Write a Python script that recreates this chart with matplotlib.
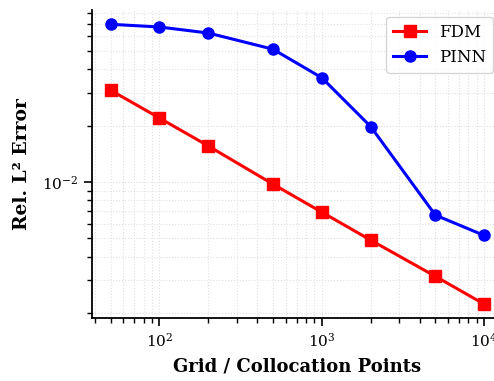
import numpy as np
import matplotlib
matplotlib.use("Agg")
import matplotlib.pyplot as plt

# Convergence data: relative L2 error vs. resolution
points = [50, 100, 200, 500, 1000, 2000, 5000, 10000]
fdm_err = [0.0310, 0.0220, 0.0156, 0.00976, 0.00691, 0.00490, 0.00314, 0.00223]
pinn_err = [0.0697, 0.0674, 0.0626, 0.0513, 0.0361, 0.0198, 0.00667, 0.00519]

plt.rcParams["font.family"] = "serif"
plt.rcParams["font.serif"] = ["DejaVu Serif"]

fig = plt.figure(figsize=(4.94, 3.81), dpi=100)
ax = fig.add_axes([0.186, 0.165, 0.832, 0.808])

ax.loglog(points, fdm_err, "-s", color="red", lw=2.2, ms=8, label="FDM")
ax.loglog(points, pinn_err, "-o", color="blue", lw=2.2, ms=8, label="PINN")

ax.set_xlabel("Grid / Collocation Points", fontsize=13, fontweight="bold", labelpad=6)
ax.set_ylabel("Rel. L² Error", fontsize=13.5, fontweight="bold", labelpad=8)

ax.grid(True, which="both", ls=":", lw=0.8, color="0.88")
ax.tick_params(which="major", length=6, width=1.2, labelsize=11)
ax.tick_params(which="minor", length=3.5, width=1.0)

for side in ("top", "right"):
    ax.spines[side].set_visible(False)
for side in ("left", "bottom"):
    ax.spines[side].set_linewidth(1.3)

ax.legend(loc="upper right", fontsize=12, fancybox=True, framealpha=0.8,
          bbox_to_anchor=(0.997, 1.005))

fig.savefig("out.png", dpi=100)
